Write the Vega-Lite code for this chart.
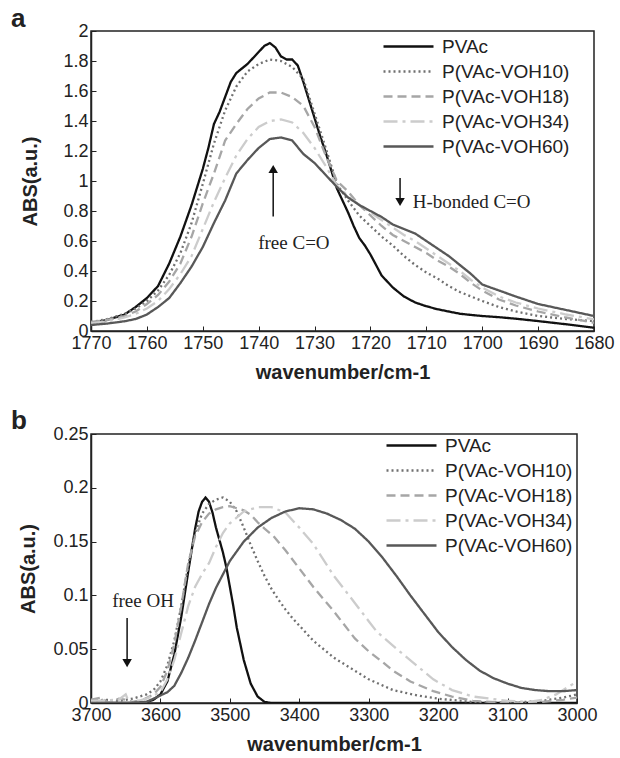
{
"$schema": "https://vega.github.io/schema/vega-lite/v6.json",
"background": "white",
"padding": {"left": 10, "top": 5, "right": 5, "bottom": 0},
"bounds": "flush",
"spacing": 103,
"datasets": {
"a": [
{"s":"PVAc","x":1770,"y":0.05},{"s":"PVAc","x":1767,"y":0.075},{"s":"PVAc","x":1764,"y":0.11},{"s":"PVAc","x":1762,"y":0.16},{"s":"PVAc","x":1760,"y":0.22},{"s":"PVAc","x":1758,"y":0.3},{"s":"PVAc","x":1756,"y":0.45},{"s":"PVAc","x":1754,"y":0.63},{"s":"PVAc","x":1752,"y":0.84},{"s":"PVAc","x":1750,"y":1.08},{"s":"PVAc","x":1749,"y":1.22},{"s":"PVAc","x":1748,"y":1.38},{"s":"PVAc","x":1747,"y":1.46},{"s":"PVAc","x":1746,"y":1.56},{"s":"PVAc","x":1745,"y":1.66},{"s":"PVAc","x":1744,"y":1.72},{"s":"PVAc","x":1743,"y":1.75},{"s":"PVAc","x":1742,"y":1.78},{"s":"PVAc","x":1741,"y":1.82},{"s":"PVAc","x":1740,"y":1.86},{"s":"PVAc","x":1739,"y":1.9},{"s":"PVAc","x":1738,"y":1.92},{"s":"PVAc","x":1737,"y":1.89},{"s":"PVAc","x":1736,"y":1.83},{"s":"PVAc","x":1735,"y":1.81},{"s":"PVAc","x":1734,"y":1.81},{"s":"PVAc","x":1733,"y":1.77},{"s":"PVAc","x":1732,"y":1.66},{"s":"PVAc","x":1731,"y":1.54},{"s":"PVAc","x":1730,"y":1.42},{"s":"PVAc","x":1729,"y":1.3},{"s":"PVAc","x":1728,"y":1.19},{"s":"PVAc","x":1727,"y":1.07},{"s":"PVAc","x":1726,"y":0.95},{"s":"PVAc","x":1725,"y":0.87},{"s":"PVAc","x":1724,"y":0.79},{"s":"PVAc","x":1723,"y":0.7},{"s":"PVAc","x":1722,"y":0.62},{"s":"PVAc","x":1721,"y":0.57},{"s":"PVAc","x":1720,"y":0.51},{"s":"PVAc","x":1719,"y":0.44},{"s":"PVAc","x":1718,"y":0.37},{"s":"PVAc","x":1717,"y":0.33},{"s":"PVAc","x":1716,"y":0.29},{"s":"PVAc","x":1714,"y":0.23},{"s":"PVAc","x":1712,"y":0.19},{"s":"PVAc","x":1710,"y":0.165},{"s":"PVAc","x":1708,"y":0.145},{"s":"PVAc","x":1706,"y":0.13},{"s":"PVAc","x":1704,"y":0.115},{"s":"PVAc","x":1702,"y":0.107},{"s":"PVAc","x":1700,"y":0.1},{"s":"PVAc","x":1697,"y":0.092},{"s":"PVAc","x":1694,"y":0.082},{"s":"PVAc","x":1690,"y":0.066},{"s":"PVAc","x":1685,"y":0.045},{"s":"PVAc","x":1680,"y":0.022},
{"s":"P(VAc-VOH10)","x":1770,"y":0.06},{"s":"P(VAc-VOH10)","x":1767,"y":0.08},{"s":"P(VAc-VOH10)","x":1764,"y":0.115},{"s":"P(VAc-VOH10)","x":1762,"y":0.15},{"s":"P(VAc-VOH10)","x":1760,"y":0.2},{"s":"P(VAc-VOH10)","x":1758,"y":0.27},{"s":"P(VAc-VOH10)","x":1756,"y":0.375},{"s":"P(VAc-VOH10)","x":1754,"y":0.52},{"s":"P(VAc-VOH10)","x":1752,"y":0.72},{"s":"P(VAc-VOH10)","x":1750,"y":0.98},{"s":"P(VAc-VOH10)","x":1748,"y":1.25},{"s":"P(VAc-VOH10)","x":1746,"y":1.47},{"s":"P(VAc-VOH10)","x":1744,"y":1.63},{"s":"P(VAc-VOH10)","x":1742,"y":1.73},{"s":"P(VAc-VOH10)","x":1740,"y":1.78},{"s":"P(VAc-VOH10)","x":1738,"y":1.81},{"s":"P(VAc-VOH10)","x":1736,"y":1.8},{"s":"P(VAc-VOH10)","x":1734,"y":1.76},{"s":"P(VAc-VOH10)","x":1732,"y":1.68},{"s":"P(VAc-VOH10)","x":1730,"y":1.45},{"s":"P(VAc-VOH10)","x":1728,"y":1.22},{"s":"P(VAc-VOH10)","x":1726,"y":0.98},{"s":"P(VAc-VOH10)","x":1724,"y":0.87},{"s":"P(VAc-VOH10)","x":1722,"y":0.77},{"s":"P(VAc-VOH10)","x":1720,"y":0.7},{"s":"P(VAc-VOH10)","x":1718,"y":0.63},{"s":"P(VAc-VOH10)","x":1716,"y":0.57},{"s":"P(VAc-VOH10)","x":1714,"y":0.5},{"s":"P(VAc-VOH10)","x":1712,"y":0.44},{"s":"P(VAc-VOH10)","x":1710,"y":0.39},{"s":"P(VAc-VOH10)","x":1708,"y":0.35},{"s":"P(VAc-VOH10)","x":1706,"y":0.3},{"s":"P(VAc-VOH10)","x":1704,"y":0.26},{"s":"P(VAc-VOH10)","x":1702,"y":0.23},{"s":"P(VAc-VOH10)","x":1700,"y":0.2},{"s":"P(VAc-VOH10)","x":1697,"y":0.16},{"s":"P(VAc-VOH10)","x":1694,"y":0.13},{"s":"P(VAc-VOH10)","x":1690,"y":0.1},{"s":"P(VAc-VOH10)","x":1685,"y":0.08},{"s":"P(VAc-VOH10)","x":1680,"y":0.066},
{"s":"P(VAc-VOH18)","x":1770,"y":0.06},{"s":"P(VAc-VOH18)","x":1767,"y":0.075},{"s":"P(VAc-VOH18)","x":1764,"y":0.1},{"s":"P(VAc-VOH18)","x":1762,"y":0.13},{"s":"P(VAc-VOH18)","x":1760,"y":0.18},{"s":"P(VAc-VOH18)","x":1758,"y":0.24},{"s":"P(VAc-VOH18)","x":1756,"y":0.33},{"s":"P(VAc-VOH18)","x":1754,"y":0.45},{"s":"P(VAc-VOH18)","x":1752,"y":0.63},{"s":"P(VAc-VOH18)","x":1750,"y":0.85},{"s":"P(VAc-VOH18)","x":1748,"y":1.05},{"s":"P(VAc-VOH18)","x":1746,"y":1.27},{"s":"P(VAc-VOH18)","x":1744,"y":1.38},{"s":"P(VAc-VOH18)","x":1742,"y":1.48},{"s":"P(VAc-VOH18)","x":1740,"y":1.55},{"s":"P(VAc-VOH18)","x":1738,"y":1.59},{"s":"P(VAc-VOH18)","x":1736,"y":1.59},{"s":"P(VAc-VOH18)","x":1734,"y":1.56},{"s":"P(VAc-VOH18)","x":1732,"y":1.5},{"s":"P(VAc-VOH18)","x":1730,"y":1.36},{"s":"P(VAc-VOH18)","x":1728,"y":1.17},{"s":"P(VAc-VOH18)","x":1726,"y":1.0},{"s":"P(VAc-VOH18)","x":1724,"y":0.93},{"s":"P(VAc-VOH18)","x":1722,"y":0.84},{"s":"P(VAc-VOH18)","x":1720,"y":0.77},{"s":"P(VAc-VOH18)","x":1718,"y":0.7},{"s":"P(VAc-VOH18)","x":1716,"y":0.64},{"s":"P(VAc-VOH18)","x":1714,"y":0.6},{"s":"P(VAc-VOH18)","x":1712,"y":0.56},{"s":"P(VAc-VOH18)","x":1710,"y":0.52},{"s":"P(VAc-VOH18)","x":1708,"y":0.47},{"s":"P(VAc-VOH18)","x":1706,"y":0.43},{"s":"P(VAc-VOH18)","x":1704,"y":0.38},{"s":"P(VAc-VOH18)","x":1702,"y":0.32},{"s":"P(VAc-VOH18)","x":1700,"y":0.27},{"s":"P(VAc-VOH18)","x":1697,"y":0.21},{"s":"P(VAc-VOH18)","x":1694,"y":0.17},{"s":"P(VAc-VOH18)","x":1690,"y":0.13},{"s":"P(VAc-VOH18)","x":1685,"y":0.09},{"s":"P(VAc-VOH18)","x":1680,"y":0.055},
{"s":"P(VAc-VOH34)","x":1770,"y":0.05},{"s":"P(VAc-VOH34)","x":1767,"y":0.065},{"s":"P(VAc-VOH34)","x":1764,"y":0.09},{"s":"P(VAc-VOH34)","x":1762,"y":0.115},{"s":"P(VAc-VOH34)","x":1760,"y":0.15},{"s":"P(VAc-VOH34)","x":1758,"y":0.2},{"s":"P(VAc-VOH34)","x":1756,"y":0.28},{"s":"P(VAc-VOH34)","x":1754,"y":0.38},{"s":"P(VAc-VOH34)","x":1752,"y":0.5},{"s":"P(VAc-VOH34)","x":1750,"y":0.68},{"s":"P(VAc-VOH34)","x":1748,"y":0.86},{"s":"P(VAc-VOH34)","x":1746,"y":1.02},{"s":"P(VAc-VOH34)","x":1744,"y":1.17},{"s":"P(VAc-VOH34)","x":1742,"y":1.28},{"s":"P(VAc-VOH34)","x":1740,"y":1.36},{"s":"P(VAc-VOH34)","x":1738,"y":1.4},{"s":"P(VAc-VOH34)","x":1736,"y":1.41},{"s":"P(VAc-VOH34)","x":1734,"y":1.39},{"s":"P(VAc-VOH34)","x":1732,"y":1.32},{"s":"P(VAc-VOH34)","x":1730,"y":1.22},{"s":"P(VAc-VOH34)","x":1728,"y":1.1},{"s":"P(VAc-VOH34)","x":1726,"y":0.97},{"s":"P(VAc-VOH34)","x":1724,"y":0.9},{"s":"P(VAc-VOH34)","x":1722,"y":0.84},{"s":"P(VAc-VOH34)","x":1720,"y":0.79},{"s":"P(VAc-VOH34)","x":1718,"y":0.74},{"s":"P(VAc-VOH34)","x":1716,"y":0.69},{"s":"P(VAc-VOH34)","x":1714,"y":0.64},{"s":"P(VAc-VOH34)","x":1712,"y":0.6},{"s":"P(VAc-VOH34)","x":1710,"y":0.55},{"s":"P(VAc-VOH34)","x":1708,"y":0.5},{"s":"P(VAc-VOH34)","x":1706,"y":0.45},{"s":"P(VAc-VOH34)","x":1704,"y":0.4},{"s":"P(VAc-VOH34)","x":1702,"y":0.34},{"s":"P(VAc-VOH34)","x":1700,"y":0.29},{"s":"P(VAc-VOH34)","x":1697,"y":0.23},{"s":"P(VAc-VOH34)","x":1694,"y":0.19},{"s":"P(VAc-VOH34)","x":1690,"y":0.15},{"s":"P(VAc-VOH34)","x":1685,"y":0.11},{"s":"P(VAc-VOH34)","x":1680,"y":0.078},
{"s":"P(VAc-VOH60)","x":1770,"y":0.04},{"s":"P(VAc-VOH60)","x":1767,"y":0.05},{"s":"P(VAc-VOH60)","x":1764,"y":0.065},{"s":"P(VAc-VOH60)","x":1762,"y":0.08},{"s":"P(VAc-VOH60)","x":1760,"y":0.11},{"s":"P(VAc-VOH60)","x":1758,"y":0.16},{"s":"P(VAc-VOH60)","x":1756,"y":0.22},{"s":"P(VAc-VOH60)","x":1754,"y":0.32},{"s":"P(VAc-VOH60)","x":1752,"y":0.43},{"s":"P(VAc-VOH60)","x":1750,"y":0.56},{"s":"P(VAc-VOH60)","x":1748,"y":0.72},{"s":"P(VAc-VOH60)","x":1746,"y":0.87},{"s":"P(VAc-VOH60)","x":1744,"y":1.05},{"s":"P(VAc-VOH60)","x":1742,"y":1.14},{"s":"P(VAc-VOH60)","x":1740,"y":1.22},{"s":"P(VAc-VOH60)","x":1738,"y":1.28},{"s":"P(VAc-VOH60)","x":1736,"y":1.29},{"s":"P(VAc-VOH60)","x":1734,"y":1.27},{"s":"P(VAc-VOH60)","x":1732,"y":1.18},{"s":"P(VAc-VOH60)","x":1730,"y":1.12},{"s":"P(VAc-VOH60)","x":1728,"y":1.04},{"s":"P(VAc-VOH60)","x":1726,"y":0.96},{"s":"P(VAc-VOH60)","x":1724,"y":0.89},{"s":"P(VAc-VOH60)","x":1722,"y":0.84},{"s":"P(VAc-VOH60)","x":1720,"y":0.8},{"s":"P(VAc-VOH60)","x":1718,"y":0.76},{"s":"P(VAc-VOH60)","x":1716,"y":0.71},{"s":"P(VAc-VOH60)","x":1714,"y":0.68},{"s":"P(VAc-VOH60)","x":1712,"y":0.65},{"s":"P(VAc-VOH60)","x":1710,"y":0.6},{"s":"P(VAc-VOH60)","x":1708,"y":0.55},{"s":"P(VAc-VOH60)","x":1706,"y":0.5},{"s":"P(VAc-VOH60)","x":1704,"y":0.44},{"s":"P(VAc-VOH60)","x":1702,"y":0.38},{"s":"P(VAc-VOH60)","x":1700,"y":0.31},{"s":"P(VAc-VOH60)","x":1697,"y":0.27},{"s":"P(VAc-VOH60)","x":1694,"y":0.23},{"s":"P(VAc-VOH60)","x":1690,"y":0.18},{"s":"P(VAc-VOH60)","x":1685,"y":0.14},{"s":"P(VAc-VOH60)","x":1680,"y":0.1}
],
"b": [
{"s":"PVAc","x":3700,"y":0},{"s":"PVAc","x":3660,"y":0},{"s":"PVAc","x":3630,"y":0},{"s":"PVAc","x":3620,"y":0.001},{"s":"PVAc","x":3610,"y":0.003},{"s":"PVAc","x":3600,"y":0.008},{"s":"PVAc","x":3590,"y":0.02},{"s":"PVAc","x":3580,"y":0.045},{"s":"PVAc","x":3570,"y":0.08},{"s":"PVAc","x":3560,"y":0.122},{"s":"PVAc","x":3550,"y":0.162},{"s":"PVAc","x":3545,"y":0.178},{"s":"PVAc","x":3540,"y":0.187},{"s":"PVAc","x":3535,"y":0.191},{"s":"PVAc","x":3530,"y":0.187},{"s":"PVAc","x":3525,"y":0.177},{"s":"PVAc","x":3520,"y":0.163},{"s":"PVAc","x":3510,"y":0.14},{"s":"PVAc","x":3505,"y":0.126},{"s":"PVAc","x":3500,"y":0.108},{"s":"PVAc","x":3495,"y":0.09},{"s":"PVAc","x":3490,"y":0.07},{"s":"PVAc","x":3480,"y":0.04},{"s":"PVAc","x":3470,"y":0.018},{"s":"PVAc","x":3460,"y":0.006},{"s":"PVAc","x":3450,"y":0.001},{"s":"PVAc","x":3440,"y":0},{"s":"PVAc","x":3300,"y":0},{"s":"PVAc","x":3000,"y":0},
{"s":"P(VAc-VOH10)","x":3700,"y":0.002},{"s":"P(VAc-VOH10)","x":3680,"y":0.003},{"s":"P(VAc-VOH10)","x":3660,"y":0.002},{"s":"P(VAc-VOH10)","x":3640,"y":0.004},{"s":"P(VAc-VOH10)","x":3620,"y":0.008},{"s":"P(VAc-VOH10)","x":3610,"y":0.012},{"s":"P(VAc-VOH10)","x":3600,"y":0.02},{"s":"P(VAc-VOH10)","x":3590,"y":0.035},{"s":"P(VAc-VOH10)","x":3580,"y":0.058},{"s":"P(VAc-VOH10)","x":3570,"y":0.09},{"s":"P(VAc-VOH10)","x":3560,"y":0.128},{"s":"P(VAc-VOH10)","x":3550,"y":0.158},{"s":"P(VAc-VOH10)","x":3540,"y":0.176},{"s":"P(VAc-VOH10)","x":3530,"y":0.185},{"s":"P(VAc-VOH10)","x":3520,"y":0.189},{"s":"P(VAc-VOH10)","x":3510,"y":0.191},{"s":"P(VAc-VOH10)","x":3500,"y":0.187},{"s":"P(VAc-VOH10)","x":3490,"y":0.178},{"s":"P(VAc-VOH10)","x":3480,"y":0.163},{"s":"P(VAc-VOH10)","x":3470,"y":0.147},{"s":"P(VAc-VOH10)","x":3460,"y":0.132},{"s":"P(VAc-VOH10)","x":3450,"y":0.118},{"s":"P(VAc-VOH10)","x":3440,"y":0.106},{"s":"P(VAc-VOH10)","x":3430,"y":0.096},{"s":"P(VAc-VOH10)","x":3420,"y":0.087},{"s":"P(VAc-VOH10)","x":3410,"y":0.079},{"s":"P(VAc-VOH10)","x":3400,"y":0.072},{"s":"P(VAc-VOH10)","x":3380,"y":0.058},{"s":"P(VAc-VOH10)","x":3350,"y":0.042},{"s":"P(VAc-VOH10)","x":3320,"y":0.03},{"s":"P(VAc-VOH10)","x":3300,"y":0.022},{"s":"P(VAc-VOH10)","x":3265,"y":0.012},{"s":"P(VAc-VOH10)","x":3230,"y":0.007},{"s":"P(VAc-VOH10)","x":3200,"y":0.004},{"s":"P(VAc-VOH10)","x":3150,"y":0.001},{"s":"P(VAc-VOH10)","x":3100,"y":0},{"s":"P(VAc-VOH10)","x":3050,"y":0.002},{"s":"P(VAc-VOH10)","x":3020,"y":0.005},{"s":"P(VAc-VOH10)","x":3000,"y":0.008},
{"s":"P(VAc-VOH18)","x":3700,"y":0.003},{"s":"P(VAc-VOH18)","x":3685,"y":0.005},{"s":"P(VAc-VOH18)","x":3675,"y":0},{"s":"P(VAc-VOH18)","x":3660,"y":0.004},{"s":"P(VAc-VOH18)","x":3650,"y":0.003},{"s":"P(VAc-VOH18)","x":3640,"y":0.001},{"s":"P(VAc-VOH18)","x":3625,"y":0.003},{"s":"P(VAc-VOH18)","x":3610,"y":0.008},{"s":"P(VAc-VOH18)","x":3600,"y":0.015},{"s":"P(VAc-VOH18)","x":3590,"y":0.03},{"s":"P(VAc-VOH18)","x":3580,"y":0.055},{"s":"P(VAc-VOH18)","x":3570,"y":0.09},{"s":"P(VAc-VOH18)","x":3560,"y":0.13},{"s":"P(VAc-VOH18)","x":3550,"y":0.155},{"s":"P(VAc-VOH18)","x":3540,"y":0.168},{"s":"P(VAc-VOH18)","x":3530,"y":0.176},{"s":"P(VAc-VOH18)","x":3520,"y":0.18},{"s":"P(VAc-VOH18)","x":3510,"y":0.182},{"s":"P(VAc-VOH18)","x":3500,"y":0.183},{"s":"P(VAc-VOH18)","x":3490,"y":0.181},{"s":"P(VAc-VOH18)","x":3480,"y":0.179},{"s":"P(VAc-VOH18)","x":3470,"y":0.175},{"s":"P(VAc-VOH18)","x":3460,"y":0.168},{"s":"P(VAc-VOH18)","x":3450,"y":0.162},{"s":"P(VAc-VOH18)","x":3437,"y":0.155},{"s":"P(VAc-VOH18)","x":3420,"y":0.142},{"s":"P(VAc-VOH18)","x":3400,"y":0.125},{"s":"P(VAc-VOH18)","x":3380,"y":0.108},{"s":"P(VAc-VOH18)","x":3350,"y":0.085},{"s":"P(VAc-VOH18)","x":3320,"y":0.06},{"s":"P(VAc-VOH18)","x":3300,"y":0.048},{"s":"P(VAc-VOH18)","x":3280,"y":0.038},{"s":"P(VAc-VOH18)","x":3265,"y":0.03},{"s":"P(VAc-VOH18)","x":3240,"y":0.02},{"s":"P(VAc-VOH18)","x":3207,"y":0.011},{"s":"P(VAc-VOH18)","x":3180,"y":0.006},{"s":"P(VAc-VOH18)","x":3150,"y":0.002},{"s":"P(VAc-VOH18)","x":3100,"y":0},{"s":"P(VAc-VOH18)","x":3050,"y":0.001},{"s":"P(VAc-VOH18)","x":3020,"y":0.003},{"s":"P(VAc-VOH18)","x":3000,"y":0.005},
{"s":"P(VAc-VOH34)","x":3700,"y":0.002},{"s":"P(VAc-VOH34)","x":3660,"y":0.003},{"s":"P(VAc-VOH34)","x":3650,"y":0.008},{"s":"P(VAc-VOH34)","x":3645,"y":0},{"s":"P(VAc-VOH34)","x":3620,"y":0.004},{"s":"P(VAc-VOH34)","x":3600,"y":0.01},{"s":"P(VAc-VOH34)","x":3590,"y":0.022},{"s":"P(VAc-VOH34)","x":3580,"y":0.04},{"s":"P(VAc-VOH34)","x":3570,"y":0.065},{"s":"P(VAc-VOH34)","x":3560,"y":0.09},{"s":"P(VAc-VOH34)","x":3550,"y":0.108},{"s":"P(VAc-VOH34)","x":3540,"y":0.12},{"s":"P(VAc-VOH34)","x":3530,"y":0.13},{"s":"P(VAc-VOH34)","x":3520,"y":0.145},{"s":"P(VAc-VOH34)","x":3510,"y":0.158},{"s":"P(VAc-VOH34)","x":3500,"y":0.167},{"s":"P(VAc-VOH34)","x":3480,"y":0.178},{"s":"P(VAc-VOH34)","x":3460,"y":0.182},{"s":"P(VAc-VOH34)","x":3440,"y":0.182},{"s":"P(VAc-VOH34)","x":3420,"y":0.177},{"s":"P(VAc-VOH34)","x":3400,"y":0.163},{"s":"P(VAc-VOH34)","x":3380,"y":0.148},{"s":"P(VAc-VOH34)","x":3350,"y":0.118},{"s":"P(VAc-VOH34)","x":3320,"y":0.093},{"s":"P(VAc-VOH34)","x":3300,"y":0.076},{"s":"P(VAc-VOH34)","x":3288,"y":0.066},{"s":"P(VAc-VOH34)","x":3250,"y":0.045},{"s":"P(VAc-VOH34)","x":3207,"y":0.022},{"s":"P(VAc-VOH34)","x":3180,"y":0.012},{"s":"P(VAc-VOH34)","x":3150,"y":0.006},{"s":"P(VAc-VOH34)","x":3100,"y":0.002},{"s":"P(VAc-VOH34)","x":3070,"y":0.001},{"s":"P(VAc-VOH34)","x":3050,"y":0.003},{"s":"P(VAc-VOH34)","x":3030,"y":0.008},{"s":"P(VAc-VOH34)","x":3015,"y":0.014},{"s":"P(VAc-VOH34)","x":3000,"y":0.02},
{"s":"P(VAc-VOH60)","x":3700,"y":0},{"s":"P(VAc-VOH60)","x":3650,"y":0},{"s":"P(VAc-VOH60)","x":3620,"y":0.001},{"s":"P(VAc-VOH60)","x":3600,"y":0.007},{"s":"P(VAc-VOH60)","x":3590,"y":0.01},{"s":"P(VAc-VOH60)","x":3580,"y":0.016},{"s":"P(VAc-VOH60)","x":3570,"y":0.028},{"s":"P(VAc-VOH60)","x":3560,"y":0.042},{"s":"P(VAc-VOH60)","x":3550,"y":0.058},{"s":"P(VAc-VOH60)","x":3540,"y":0.075},{"s":"P(VAc-VOH60)","x":3530,"y":0.092},{"s":"P(VAc-VOH60)","x":3520,"y":0.107},{"s":"P(VAc-VOH60)","x":3500,"y":0.132},{"s":"P(VAc-VOH60)","x":3480,"y":0.15},{"s":"P(VAc-VOH60)","x":3460,"y":0.163},{"s":"P(VAc-VOH60)","x":3440,"y":0.172},{"s":"P(VAc-VOH60)","x":3420,"y":0.178},{"s":"P(VAc-VOH60)","x":3400,"y":0.181},{"s":"P(VAc-VOH60)","x":3380,"y":0.18},{"s":"P(VAc-VOH60)","x":3360,"y":0.176},{"s":"P(VAc-VOH60)","x":3340,"y":0.17},{"s":"P(VAc-VOH60)","x":3320,"y":0.162},{"s":"P(VAc-VOH60)","x":3300,"y":0.15},{"s":"P(VAc-VOH60)","x":3280,"y":0.135},{"s":"P(VAc-VOH60)","x":3260,"y":0.118},{"s":"P(VAc-VOH60)","x":3240,"y":0.1},{"s":"P(VAc-VOH60)","x":3220,"y":0.083},{"s":"P(VAc-VOH60)","x":3200,"y":0.066},{"s":"P(VAc-VOH60)","x":3180,"y":0.052},{"s":"P(VAc-VOH60)","x":3160,"y":0.04},{"s":"P(VAc-VOH60)","x":3140,"y":0.03},{"s":"P(VAc-VOH60)","x":3120,"y":0.023},{"s":"P(VAc-VOH60)","x":3100,"y":0.018},{"s":"P(VAc-VOH60)","x":3080,"y":0.014},{"s":"P(VAc-VOH60)","x":3060,"y":0.012},{"s":"P(VAc-VOH60)","x":3040,"y":0.011},{"s":"P(VAc-VOH60)","x":3020,"y":0.011},{"s":"P(VAc-VOH60)","x":3000,"y":0.012}
],
"arrA": [{"x":1737.4,"y":0.763,"y2":1.08,"shape":"triangle-up"},{"x":1714.7,"y":1.02,"y2":0.86,"shape":"triangle-down"}],
"txtA": [{"x":1733.7,"y":0.59,"label":"free C=O"},{"x":1701.9,"y":0.863,"label":"H-bonded C=O"}],
"arrB": [{"x":3648,"y":0.079,"y2":0.037,"shape":"triangle-down"}],
"txtB": [{"x":3625,"y":0.095,"label":"free OH"}]
},
"resolve": {"scale": {"x":"independent","y":"independent","color":"independent","strokeDash":"independent"}, "legend": {"color":"independent","strokeDash":"independent"}},
"vconcat": [
{
"width": 503, "height": 300,
"title": {"text":"a","anchor":"start","frame":"group","dx":-80,"offset":-31,"baseline":"alphabetic","fontSize":26,"fontWeight":"bold","font":"Liberation Sans","color":"#222"},
"layer": [
{"data":{"name":"a"},"mark":{"type":"line","strokeWidth":2.3,"clip":true},
"encoding":{
"x":{"field":"x","type":"quantitative","scale":{"domain":[1680,1770],"reverse":true,"nice":false,"zero":false},"axis":{"values":[1770,1760,1750,1740,1730,1720,1710,1700,1690,1680],"tickCount":20,"format":"d","title":"wavenumber/cm-1","labelOverlap":false}},
"y":{"field":"y","type":"quantitative","scale":{"domain":[0,2],"nice":false},"axis":{"values":[0,0.2,0.4,0.6,0.8,1,1.2,1.4,1.6,1.8,2],"tickCount":20,"format":"~g","title":"ABS(a.u.)","labelOverlap":false,"titlePadding":22}},
"color":{"field":"s","type":"nominal","scale":{"domain":["PVAc","P(VAc-VOH10)","P(VAc-VOH18)","P(VAc-VOH34)","P(VAc-VOH60)"],"range":["#111111","#707070","#a6a6a6","#cccccc","#585858"]},"legend":{"title":null,"orient":"none","legendX":291,"legendY":4}},
"strokeDash":{"field":"s","type":"nominal","scale":{"domain":["PVAc","P(VAc-VOH10)","P(VAc-VOH18)","P(VAc-VOH34)","P(VAc-VOH60)"],"range":[[1,0],[2,3],[9,5],[14,5,3,5],[1,0]]},"legend":{"title":null,"orient":"none","legendX":291,"legendY":4}}
}},
{"data":{"name":"arrA"},"mark":{"type":"rule","color":"#111","strokeWidth":1.5},"encoding":{"x":{"field":"x","type":"quantitative"},"y":{"field":"y","type":"quantitative"},"y2":{"field":"y2"}}},
{"data":{"name":"arrA"},"mark":{"type":"point","filled":true,"color":"#111","size":90,"opacity":1},"encoding":{"x":{"field":"x","type":"quantitative"},"y":{"field":"y2","type":"quantitative"},"shape":{"field":"shape","type":"nominal","scale":null,"legend":null}}},
{"data":{"name":"txtA"},"mark":{"type":"text","font":"Liberation Serif","fontSize":19,"color":"#222","align":"center","baseline":"middle"},"encoding":{"x":{"field":"x","type":"quantitative"},"y":{"field":"y","type":"quantitative"},"text":{"field":"label"}}}
]
},
{
"width": 486, "height": 269,
"title": {"text":"b","anchor":"start","frame":"group","dx":-80,"offset":-30,"baseline":"alphabetic","fontSize":26,"fontWeight":"bold","font":"Liberation Sans","color":"#222"},
"layer": [
{"data":{"name":"b"},"mark":{"type":"line","strokeWidth":2.3,"clip":true},
"encoding":{
"x":{"field":"x","type":"quantitative","scale":{"domain":[3000,3700],"reverse":true,"nice":false,"zero":false},"axis":{"values":[3700,3600,3500,3400,3300,3200,3100,3000],"tickCount":20,"format":"d","title":"wavenumber/cm-1","labelOverlap":false}},
"y":{"field":"y","type":"quantitative","scale":{"domain":[0,0.25],"nice":false},"axis":{"values":[0,0.05,0.1,0.15,0.2,0.25],"tickCount":20,"format":"~g","title":"ABS(a.u.)","labelOverlap":false,"titlePadding":14}},
"color":{"field":"s","type":"nominal","scale":{"domain":["PVAc","P(VAc-VOH10)","P(VAc-VOH18)","P(VAc-VOH34)","P(VAc-VOH60)"],"range":["#111111","#707070","#a6a6a6","#cccccc","#585858"]},"legend":{"title":null,"orient":"none","legendX":294,"legendY":0}},
"strokeDash":{"field":"s","type":"nominal","scale":{"domain":["PVAc","P(VAc-VOH10)","P(VAc-VOH18)","P(VAc-VOH34)","P(VAc-VOH60)"],"range":[[1,0],[2,3],[9,5],[14,5,3,5],[1,0]]},"legend":{"title":null,"orient":"none","legendX":294,"legendY":0}}
}},
{"data":{"name":"arrB"},"mark":{"type":"rule","color":"#111","strokeWidth":1.5},"encoding":{"x":{"field":"x","type":"quantitative"},"y":{"field":"y","type":"quantitative"},"y2":{"field":"y2"}}},
{"data":{"name":"arrB"},"mark":{"type":"point","filled":true,"color":"#111","size":90,"opacity":1},"encoding":{"x":{"field":"x","type":"quantitative"},"y":{"field":"y2","type":"quantitative"},"shape":{"field":"shape","type":"nominal","scale":null,"legend":null}}},
{"data":{"name":"txtB"},"mark":{"type":"text","font":"Liberation Serif","fontSize":19,"color":"#222","align":"center","baseline":"middle"},"encoding":{"x":{"field":"x","type":"quantitative"},"y":{"field":"y","type":"quantitative"},"text":{"field":"label"}}}
]
}
],
"config": {
"font": "Liberation Sans",
"view": {"stroke":"#222","strokeWidth":1.5},
"axis": {"labelFont":"Liberation Sans","labelFontSize":18,"labelColor":"#222","titleFont":"Liberation Sans","titleFontSize":20,"titleFontWeight":"bold","titleColor":"#222","domainColor":"#222","domainWidth":1.5,"tickColor":"#222","tickSize":-5,"tickWidth":1,"grid":false,"labelPadding":8,"titlePadding":8,"labelOverlap":false},
"axisX": {"labelFlush":false,"titlePadding":10},
"legend": {"symbolType":"M-1,0H4","symbolSize":400,"symbolStrokeWidth":2.5,"labelOffset":37,"labelFontSize":19,"labelFont":"Liberation Sans","labelColor":"#222","rowPadding":3,"padding":0,"labelLimit":300}
}
}
